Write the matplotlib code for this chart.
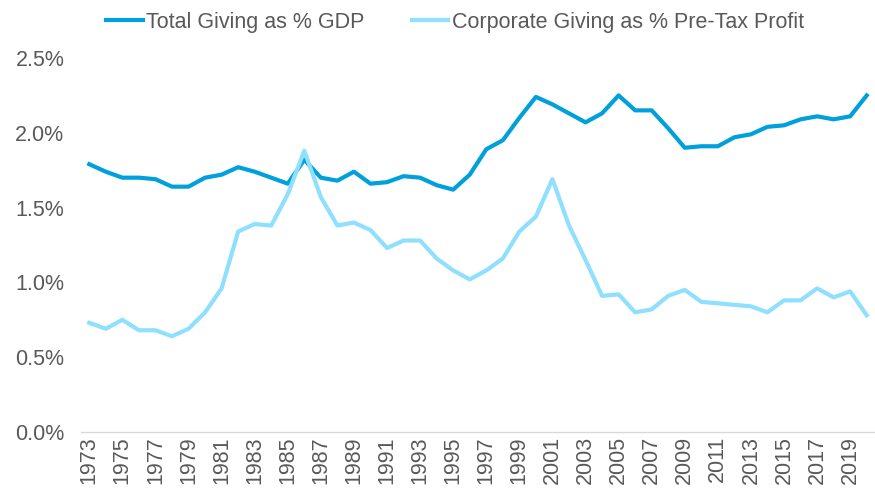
import matplotlib
matplotlib.use("Agg")
import matplotlib.pyplot as plt
from matplotlib.ticker import FuncFormatter

years = list(range(1973, 2021))
total_giving_gdp = [1.79, 1.74, 1.70, 1.70, 1.69, 1.64, 1.64, 1.70, 1.72, 1.77,
                    1.74, 1.70, 1.66, 1.82, 1.70, 1.68, 1.74, 1.66, 1.67, 1.71,
                    1.70, 1.65, 1.62, 1.72, 1.89, 1.95, 2.10, 2.24, 2.19, 2.13,
                    2.07, 2.13, 2.25, 2.15, 2.15, 2.03, 1.90, 1.91, 1.91, 1.97,
                    1.99, 2.04, 2.05, 2.09, 2.11, 2.09, 2.11, 2.25]
corporate_giving_profit = [0.73, 0.69, 0.75, 0.68, 0.68, 0.64, 0.69, 0.80, 0.96, 1.34,
                           1.39, 1.38, 1.59, 1.88, 1.57, 1.38, 1.40, 1.35, 1.23, 1.28,
                           1.28, 1.16, 1.08, 1.02, 1.08, 1.16, 1.34, 1.44, 1.69, 1.38,
                           1.15, 0.91, 0.92, 0.80, 0.82, 0.91, 0.95, 0.87, 0.86, 0.85,
                           0.84, 0.80, 0.88, 0.88, 0.96, 0.90, 0.94, 0.78]
series_labels = ["Total Giving as % GDP", "Corporate Giving as % Pre-Tax Profit"]
y_ticks = [0.0, 0.5, 1.0, 1.5, 2.0, 2.5]
x_tick_years = list(range(1973, 2020, 2))

plt.rcParams['font.family'] = ['Liberation Sans', 'DejaVu Sans']
text_color = '#595959'
fs = 15.5

fig = plt.figure(figsize=(8.75, 4.93), dpi=100)
ax = fig.add_axes([81/875, 1 - 432/493, 1 - 81/875, (432 - 58)/493])

ax.plot(years, total_giving_gdp, color='#00A0DC', lw=3, label=series_labels[0],
        solid_joinstyle='round', zorder=2)
ax.plot(years, corporate_giving_profit, color='#8FDFFF', lw=3, label=series_labels[1],
        solid_joinstyle='round', zorder=3)

ax.set_xlim(1972.5, 2020.5)
ax.set_ylim(0, 2.5)
ax.set_yticks(y_ticks)
ax.yaxis.set_major_formatter(FuncFormatter(lambda v, p: f"{v:.1f}%"))
ax.set_xticks(x_tick_years)
ax.set_xticklabels([str(y) for y in x_tick_years], rotation=90)
ax.tick_params(axis='both', length=0, labelsize=fs, colors=text_color)
ax.tick_params(axis='y', pad=12)
ax.tick_params(axis='x', pad=3)

for s in ['top', 'right', 'left']:
    ax.spines[s].set_visible(False)
ax.spines['bottom'].set_color('#D9D9D9')
ax.spines['bottom'].set_linewidth(1)

leg = fig.legend(loc='upper center', bbox_to_anchor=(0.52, 1.015), ncol=2, frameon=False,
                 fontsize=fs, handlelength=1.7, handletextpad=0.15, columnspacing=2.2,
                 labelcolor=text_color)
fig.savefig("out.png", dpi=100)
